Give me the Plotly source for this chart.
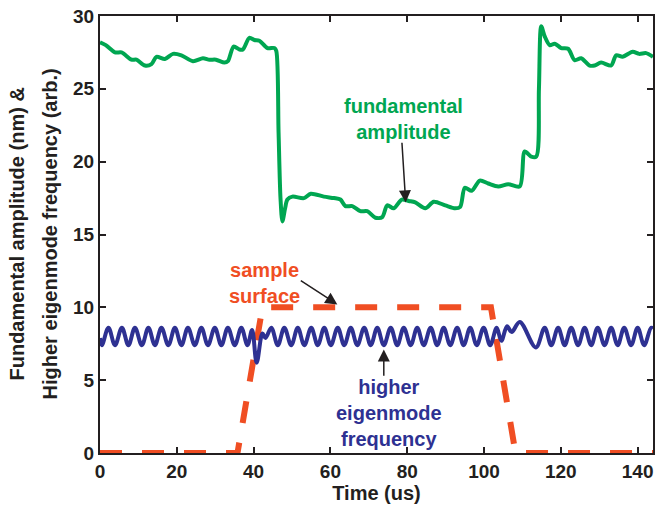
import plotly.graph_objects as go

# fundamental amplitude (green)
t_fund = [0, 1.5, 3.9, 5.6, 8.2, 9.5, 11.7, 13.4, 14.7, 16.9, 19.0, 21.2, 24.2, 26.8, 28.5, 30.2,
          32.4, 33.3, 34.8, 36.3, 37.2, 38.9, 40.2, 41.5, 43.6, 45.4, 45.9, 46.5, 47.0, 47.5, 48.2,
          48.8, 50.1, 53.1, 54.9, 58.3, 60.9, 62.6, 63.9, 65.7, 67.8, 69.6, 71.7, 73.5, 74.8, 76.5,
          78.6, 80.4, 82.1, 84.7, 86.9, 89.9, 92.5, 93.8, 95.0, 96.8, 98.9, 101.1, 103.7, 106.3,
          109.3, 110.6, 112.3, 113.6, 114.3, 114.9, 115.8, 117.1, 118.4, 120.1, 121.9, 123.6, 125.3,
          127.5, 128.8, 130.5, 133.1, 134.4, 136.1, 138.7, 140.4, 142.2, 144.0]
fund_amp = [28.2, 28.0, 27.5, 27.5, 27.0, 27.0, 26.6, 26.7, 27.2, 27.05, 27.4, 27.3, 26.9, 27.1, 27.0, 27.0,
            26.8, 26.9, 27.9, 27.7, 27.7, 28.5, 28.35, 28.3, 27.8, 27.8, 27.6, 22.0, 17.5, 15.9, 16.8,
            17.4, 17.6, 17.5, 17.8, 17.6, 17.5, 17.4, 16.95, 16.95, 16.6, 16.6, 16.15, 16.2, 17.0, 16.8,
            17.4, 17.3, 17.2, 16.8, 17.25, 17.0, 16.8, 16.9, 18.2, 18.0, 18.7, 18.5, 18.3, 18.45,
            18.3, 20.7, 20.35, 20.35, 25.0, 29.3, 28.6, 28.0, 28.1, 27.8, 27.75, 26.97, 27.1,
            26.6, 26.6, 26.8, 26.6, 27.3, 27.2, 27.55, 27.4, 27.45, 27.2]

# higher eigenmode frequency (blue): peaks and troughs of the wiggle
t_eigen = [0, 0.5, 2.2, 3.9, 5.7, 7.4, 9.1, 10.9, 12.6, 14.3, 16.0, 17.8, 19.5, 21.2, 22.9, 24.7,
           26.4, 28.1, 29.9, 31.6, 33.3, 35.1, 36.8, 38.4,
           39.6, 40.8, 42.3, 43.1,
           44.6, 46.3, 48.0, 49.8, 51.5, 53.2, 55.0, 56.7, 58.4, 60.1, 61.9, 63.6, 65.3, 67.0, 68.8,
           70.5, 72.2, 73.9, 75.7, 77.4, 79.1, 80.9, 82.6, 84.3, 86.1, 87.8, 89.5, 91.2, 93.0, 94.7,
           96.4, 98.1, 99.9, 101.6, 103.3,
           104.5, 106.0, 107.2, 109.3, 113.5, 115.8,
           117.5, 119.3, 121.0, 122.7, 124.5, 126.2, 127.9, 129.6, 131.4, 133.1, 134.8, 136.5, 138.3,
           140.0, 141.7, 143.5, 144.0]
eigen_freq = [7.9, 7.4, 8.6, 7.4, 8.6, 7.4, 8.6, 7.4, 8.6, 7.4, 8.6, 7.4, 8.6, 7.4, 8.6, 7.4,
              8.6, 7.4, 8.6, 7.4, 8.6, 7.4, 8.6, 7.4,
              8.45, 6.2, 8.2, 7.9,
              8.6, 7.4, 8.6, 7.4, 8.6, 7.4, 8.6, 7.4, 8.6, 7.4, 8.6, 7.4, 8.6, 7.4, 8.6,
              7.4, 8.6, 7.4, 8.6, 7.4, 8.6, 7.4, 8.6, 7.4, 8.6, 7.4, 8.6, 7.4, 8.6, 7.4,
              8.6, 7.4, 8.6, 7.4, 8.6,
              7.7, 8.7, 8.3, 9.0, 7.25, 8.6,
              7.4, 8.6, 7.4, 8.6, 7.4, 8.6, 7.4, 8.6, 7.4, 8.6, 7.4, 8.6, 7.4,
              8.6, 7.4, 8.6, 8.55]

# sample surface (red dashed)
t_surf = [0, 35.8, 42.3, 101.8, 108.2, 144]
surf = [0, 0, 10, 10, 0, 0]

x_ticks = [0, 20, 40, 60, 80, 100, 120, 140]
y_ticks = [0, 5, 10, 15, 20, 25, 30]

GREEN = "#00A651"
BLUE = "#2E3192"
RED = "#F04E23"
INK = "#231F20"
FONT = "Liberation Sans, Arial, sans-serif"

fig = go.Figure()
fig.add_trace(go.Scatter(x=t_surf, y=surf, mode="lines",
                         line=dict(color=RED, width=6, dash="22px,20px")))
fig.add_trace(go.Scatter(x=t_fund, y=fund_amp, mode="lines",
                         line=dict(color=GREEN, width=4, shape="spline", smoothing=0.8)))
fig.add_trace(go.Scatter(x=t_eigen, y=eigen_freq, mode="lines",
                         line=dict(color=BLUE, width=4, shape="spline", smoothing=1.0)))

lbl = dict(family=FONT, size=20, weight="bold")

# text labels
fig.add_annotation(x=79.1, y=22.9, text="fundamental<br>amplitude", showarrow=False,
                   font=dict(lbl, color=GREEN))
fig.add_annotation(x=42.8, y=11.7, text="sample<br>surface", showarrow=False,
                   font=dict(lbl, color=RED))
fig.add_annotation(x=75.3, y=2.75, text="higher<br>eigenmode<br>frequency", showarrow=False,
                   font=dict(lbl, color=BLUE))

# arrows
arrow = dict(text="", showarrow=True, axref="x", ayref="y", arrowcolor=INK,
             arrowwidth=1.5, arrowhead=2, arrowsize=1.6)
fig.add_annotation(x=79.6, y=17.2, ax=78.6, ay=21.4, **arrow)
fig.add_annotation(x=61.8, y=10.2, ax=51.9, ay=11.9, **arrow)
fig.add_annotation(x=73.9, y=7.1, ax=73.9, ay=5.2, **arrow)

# two-line y title
fig.add_annotation(xref="paper", yref="paper", x=0, y=0.5, xanchor="center", yanchor="middle",
                   xshift=-84, textangle=-90,
                   text="Fundamental amplitude (nm) &", showarrow=False,
                   font=dict(family=FONT, size=20, weight="bold", color=INK))
fig.add_annotation(xref="paper", yref="paper", x=0, y=0.5, xanchor="center", yanchor="middle",
                   xshift=-51, textangle=-90,
                   text="Higher eigenmode frequency (arb.)", showarrow=False,
                   font=dict(family=FONT, size=20, weight="bold", color=INK))

ax_style = dict(showgrid=False, zeroline=False, showline=True, linecolor=INK, linewidth=2,
                mirror="ticks", ticks="inside", ticklen=6, tickwidth=1.5, tickcolor=INK,
                tickfont=dict(family=FONT, size=19, weight="bold", color=INK))

fig.update_xaxes(range=[0, 144], tickvals=x_ticks,
                 title=dict(text="Time (us)", font=dict(family=FONT, size=20, weight="bold", color=INK),
                            standoff=4),
                 **ax_style)
fig.update_yaxes(range=[0, 30], tickvals=y_ticks, **ax_style)

fig.update_layout(width=657, height=507, showlegend=False,
                  margin=dict(l=100, r=2, t=16, b=54),
                  plot_bgcolor="white", paper_bgcolor="white")

fig.write_html("out.html", config={"displayModeBar": False},
               post_script="document.body.style.margin='0';")
